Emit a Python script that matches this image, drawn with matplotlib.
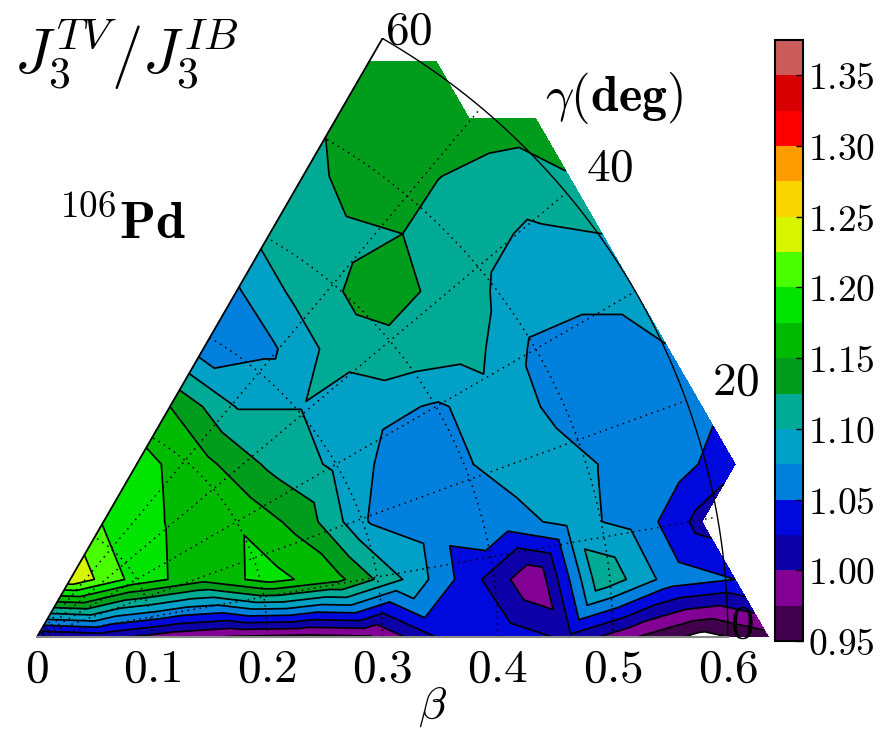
import numpy as np
import matplotlib
matplotlib.use('Agg')
import matplotlib.pyplot as plt
import matplotlib.tri as mtri

plt.rcParams['mathtext.fontset'] = 'cm'
plt.rcParams['font.family'] = ['DejaVu Serif']

# J3(TV)/J3(IB) ratio on a triangular lattice of (x, y) points in the beta-gamma plane
# row k sits at y = 0.05*k, starts on the gamma = 60 deg line, step 0.1/sqrt(3) in x
z_row0 = [1.000, 1.010, 0.985, 0.972, 0.968, 0.972, 1.025, 1.040, 1.020, 0.976, 0.940, 0.965]
z_row1 = [1.245, 1.190, 1.158, 1.185, 1.158, 1.100, 1.036, 0.978, 1.120, 1.065, 1.050]
z_row2 = [1.198, 1.173, 1.172, 1.140, 1.074, 1.060, 1.064, 1.082, 1.068, 1.015]
z_row3 = [1.185, 1.158, 1.120, 1.095, 1.060, 1.074, 1.090, 1.074, 1.066, 1.030]
z_row4 = [1.150, 1.099, 1.099, 1.085, 1.072, 1.087, 1.066, 1.060, 1.060]
z_row5 = [1.063, 1.070, 1.110, 1.118, 1.110, 1.070, 1.060, 1.074]
z_row6 = [1.072, 1.110, 1.135, 1.122, 1.095, 1.085, 1.085]
z_row7 = [1.110, 1.115, 1.125, 1.110, 1.095, 1.100]
z_row8 = [1.110, 1.148, 1.126, 1.115, 1.124]
z_row9 = [1.132, 1.140, 1.140, 1.135]
z_row10 = [1.140, 1.140]
rows = [z_row0, z_row1, z_row2, z_row3, z_row4, z_row5,
        z_row6, z_row7, z_row8, z_row9, z_row10]

levels = np.arange(0.95, 1.3751, 0.025)
cbar_ticks = [0.95, 1.00, 1.05, 1.10, 1.15, 1.20, 1.25, 1.30, 1.35]
beta_ticks = [0, 0.1, 0.2, 0.3, 0.4, 0.5, 0.6]
gamma_labels = ['0', '20', '40', '60']

# lattice points
dy = 0.05
dx = dy * 2 / np.sqrt(3)
xs, ys, zs = [], [], []
for k, row in enumerate(rows):
    for j, v in enumerate(row):
        xs.append((k / 2 + j) * dx)
        ys.append(k * dy)
        zs.append(v)
xs, ys, zs = np.array(xs), np.array(ys), np.array(zs)

tri = mtri.Triangulation(xs, ys)
p = np.c_[xs, ys][tri.triangles]
edges = np.stack([np.hypot(*(p[:, a] - p[:, b]).T) for a, b in [(0, 1), (1, 2), (2, 0)]], axis=1)
tri.set_mask(edges.max(axis=1) > 1.2 * dx)

fig = plt.figure(figsize=(8.89, 7.41), dpi=100)
ax = fig.add_axes([37 / 889, 104 / 741, 737 / 889, 599 / 741])
cs = ax.tricontourf(tri, zs, levels=levels, cmap='nipy_spectral')
ax.tricontour(tri, zs, levels=levels, colors='k', linewidths=1.25)

# polar grid
g = np.radians(np.linspace(0, 60, 200))
for b in [0.1, 0.2, 0.3, 0.4, 0.5]:
    ax.plot(b * np.cos(g), b * np.sin(g), 'k', ls=(0, (1, 3)), lw=1.1)
for gd in [10, 20, 30, 40, 50]:
    gr = np.radians(gd)
    ax.plot([0, 0.6 * np.cos(gr)], [0, 0.6 * np.sin(gr)], 'k', ls=(0, (1, 3)), lw=1.1)
ax.plot(0.6 * np.cos(g), 0.6 * np.sin(g), 'k', lw=1.0)
ax.plot([0, 0.6 * np.cos(np.radians(60))], [0, 0.6 * np.sin(np.radians(60))], 'k', lw=1.3)
ax.plot([0, 0.6], [0, 0], color='#888888', lw=1.5, clip_on=False)

ax.set_xlim(0, 0.64)
ax.set_ylim(0, 0.52)
for s in ax.spines.values():
    s.set_visible(False)
ax.set_yticks([])
ax.set_xticks(beta_ticks)
ax.set_xticklabels(['$%g$' % t for t in beta_ticks], fontsize=34)
ax.tick_params(axis='x', length=0, pad=7)

# gamma labels
gpos = [(0.612, 1.0), (0.646, 20.0), (0.643, 39.3), (0.617, 58.5)]
for lab, (b, gd) in zip(gamma_labels, gpos):
    gr = np.radians(gd)
    ax.text(b * np.cos(gr), b * np.sin(gr), '$%s$' % lab, fontsize=34,
            ha='center', va='center', clip_on=False)
ax.text(0.501, 0.468, r'$\gamma\mathbf{(deg)}$', fontsize=36,
        ha='center', va='center', clip_on=False)

fig.text(432 / 889, 1 - 706 / 741, r'$\beta$', fontsize=33, ha='center', va='center')
fig.text(14 / 889, 1 - 55 / 741, r'$J_3^{TV}/J_3^{IB}$', fontsize=45, ha='left', va='center')
fig.text(58 / 889, 1 - 238 / 741, r'${}^{106}\mathbf{Pd}$', fontsize=38, ha='left', va='baseline')

cax = fig.add_axes([775 / 889, 100 / 741, 28 / 889, 601 / 741])
cb = fig.colorbar(cs, cax=cax, ticks=cbar_ticks)
cb.ax.set_yticklabels(['$%.2f$' % t for t in cbar_ticks])
cb.ax.tick_params(labelsize=27, direction='in', length=5, width=1)
cb.outline.set_linewidth(1.5)

fig.savefig('out.png', dpi=100)
